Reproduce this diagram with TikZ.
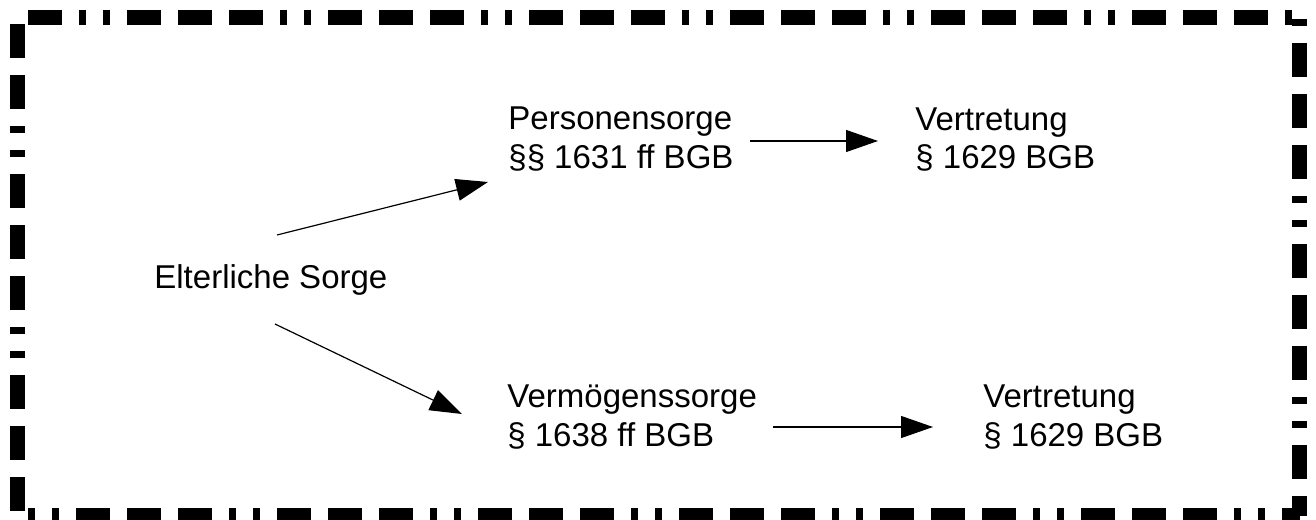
\documentclass[tikz,border=0pt]{standalone}
\usepackage{fontspec}
\setmainfont{Liberation Sans}
\usetikzlibrary{arrows.meta}
\begin{document}
\begin{tikzpicture}[x=0.5pt,y=-0.5pt,
  lbl/.style={anchor=base west, inner sep=0pt, font=\fontsize{16.5}{19.5}\selectfont},
  arr/.style={line width=0.6pt, -{Triangle[length=16pt,width=11pt]}},
  frame/.style={line width=7.5pt, dash pattern=on 17pt off 8.5pt on 17pt off 8.5pt on 17pt off 8.5pt on 3.5pt off 8.5pt on 3.5pt off 8.5pt}]
\useasboundingbox (0,0) rectangle (1316,519);
% dashed frame
\draw[frame, dash phase=45.75pt] (17.5,17.5) -- (1299.5,17.5);
\draw[frame, dash phase=22.25pt] (17.5,17.5) -- (17.5,515.5);
\draw[frame, dash phase=87.75pt] (1299.5,17.5) -- (1299.5,515.5);
\draw[frame, dash phase=71.25pt] (17.5,515.5) -- (1299.5,515.5);
% texts
\node[lbl] (elt) at (154,288) {Elterliche Sorge};
\node[lbl] (pers) at (508,129) {\begin{tabular}[t]{@{}l@{}}Personensorge\\§§ 1631 ff BGB\end{tabular}};
\node[lbl] (vt1) at (915,130) {\begin{tabular}[t]{@{}l@{}}Vertretung\\§ 1629 BGB\end{tabular}};
\node[lbl] (verm) at (507,407) {\begin{tabular}[t]{@{}l@{}}Vermögenssorge\\§ 1638 ff BGB\end{tabular}};
\node[lbl] (vt2) at (983,407) {\begin{tabular}[t]{@{}l@{}}Vertretung\\ § 1629 BGB\end{tabular}};
% connectors
\draw[arr] ([shift={(123,-53)}]elt.base west) -- ([shift={(-20,53)}]pers.base west);
\draw[arr] ([shift={(242,12)}]pers.base west) -- ([shift={(-37,11)}]vt1.base west);
\draw[arr] ([shift={(121,36)}]elt.base west) -- ([shift={(-45,7)}]verm.base west);
\draw[arr] ([shift={(266,20)}]verm.base west) -- ([shift={(-50,20)}]vt2.base west);
\end{tikzpicture}
\end{document}
